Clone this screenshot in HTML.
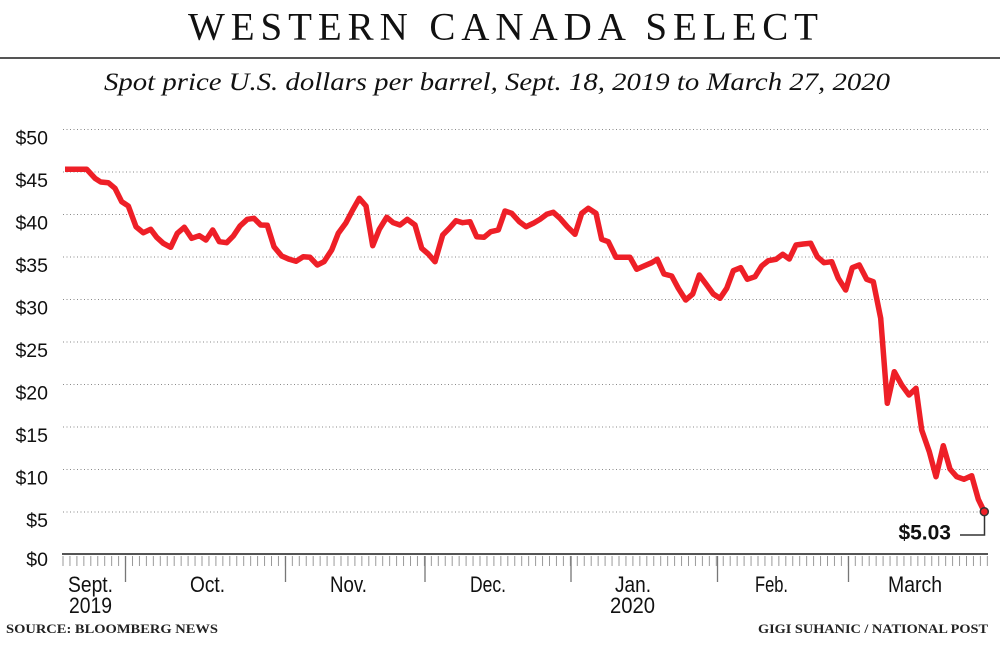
<!DOCTYPE html>
<html>
<head>
<meta charset="utf-8">
<style>
  html,body{margin:0;padding:0;background:#fff;}
  svg{display:block;}
</style>
</head>
<body>
<svg width="1000" height="651" viewBox="0 0 1000 651" xmlns="http://www.w3.org/2000/svg">
  <defs>
    <pattern id="ticks" patternUnits="userSpaceOnUse" x="62.5" y="0" width="6.95" height="651">
      <rect x="0" y="556" width="1" height="10" fill="#9a9a9a"/>
    </pattern>
  </defs>
  <rect width="1000" height="651" fill="#fff"/>

  <!-- Title -->
  <text x="188" y="39.5" font-family="Liberation Serif, serif" font-size="39" fill="#111" textLength="630" lengthAdjust="spacing">WESTERN CANADA SELECT</text>
  <rect x="0" y="57" width="1000" height="2" fill="#555"/>
  <text x="104" y="90" font-family="Liberation Serif, serif" font-style="italic" font-size="25" fill="#111" textLength="786" lengthAdjust="spacingAndGlyphs">Spot price U.S. dollars per barrel, Sept. 18, 2019 to March 27, 2020</text>

  <!-- Gridlines -->
  <g stroke="#8a8a8a" stroke-width="1" stroke-dasharray="1 2.5">
    <line x1="63" y1="129.5" x2="988" y2="129.5"/>
    <line x1="63" y1="172" x2="988" y2="172"/>
    <line x1="63" y1="214.5" x2="988" y2="214.5"/>
    <line x1="63" y1="257" x2="988" y2="257"/>
    <line x1="63" y1="299.5" x2="988" y2="299.5"/>
    <line x1="63" y1="342" x2="988" y2="342"/>
    <line x1="63" y1="384.5" x2="988" y2="384.5"/>
    <line x1="63" y1="427" x2="988" y2="427"/>
    <line x1="63" y1="469.5" x2="988" y2="469.5"/>
    <line x1="63" y1="512" x2="988" y2="512"/>
  </g>

  <!-- Y labels -->
  <g font-family="Liberation Sans, sans-serif" font-size="19.5" fill="#111" text-anchor="end">
    <text x="48" y="144.5">$50</text>
    <text x="48" y="187">$45</text>
    <text x="48" y="229.5">$40</text>
    <text x="48" y="272">$35</text>
    <text x="48" y="314.5">$30</text>
    <text x="48" y="357">$25</text>
    <text x="48" y="399.5">$20</text>
    <text x="48" y="442">$15</text>
    <text x="48" y="484.5">$10</text>
    <text x="48" y="527">$5</text>
    <text x="48" y="566">$0</text>
  </g>

  <!-- Axis -->
  <rect x="62" y="553" width="926" height="2" fill="#555"/>
  <rect x="62" y="555" width="927" height="12" fill="url(#ticks)"/>
  <g stroke="#777" stroke-width="1.3">
    <line x1="125.5" y1="556" x2="125.5" y2="582"/>
    <line x1="285.5" y1="556" x2="285.5" y2="582"/>
    <line x1="425" y1="556" x2="425" y2="582"/>
    <line x1="571" y1="556" x2="571" y2="582"/>
    <line x1="717.5" y1="556" x2="717.5" y2="582"/>
    <line x1="848.5" y1="556" x2="848.5" y2="582"/>
  </g>

  <!-- X labels -->
  <g font-family="Liberation Sans, sans-serif" font-size="22" fill="#111">
    <text x="68" y="592" textLength="45" lengthAdjust="spacingAndGlyphs">Sept.</text>
    <text x="69" y="613" textLength="43" lengthAdjust="spacingAndGlyphs">2019</text>
    <text x="190" y="592" textLength="35" lengthAdjust="spacingAndGlyphs">Oct.</text>
    <text x="330" y="592" textLength="37" lengthAdjust="spacingAndGlyphs">Nov.</text>
    <text x="470" y="592" textLength="36" lengthAdjust="spacingAndGlyphs">Dec.</text>
    <text x="615" y="592" textLength="36" lengthAdjust="spacingAndGlyphs">Jan.</text>
    <text x="610" y="613" textLength="45" lengthAdjust="spacingAndGlyphs">2020</text>
    <text x="755" y="592" textLength="33" lengthAdjust="spacingAndGlyphs">Feb.</text>
    <text x="888" y="592" textLength="54" lengthAdjust="spacingAndGlyphs">March</text>
  </g>

  <!-- Data line -->
  <polyline fill="none" stroke="#ee1f27" stroke-width="5.5" stroke-linejoin="round" stroke-linecap="butt" points="
65,169.3 86.7,169.3 95,178.3 100.7,182 108.3,182.7 115,188.3 121.7,201.7 128.3,206 136,226.7 143.3,232.7
150.7,229.3 156.7,237.3 163.3,243.3 170.7,247.3 177.3,233.3 184.3,227.3 191.7,238.3 199.3,235.7 206,240 212.7,230
219.3,241.7 226.7,242.7 233.3,236 240,226 247.3,219.3 254,218.3 260.7,225 267.3,225.3 274,246.7 281.7,256
289.3,259.3 296,261.3 303.3,256.7 310,257.3 317.3,265 324,261.7 331.7,250 338.3,233.3 346,222.7 352.7,210
359.3,198.3 366,206 372.7,245.7 379.3,229.3 386.7,217.3 393.3,222.7 400,225 407.3,219.3 415,225 421.7,248.3
428.3,254 435,261.7 442.7,235 449.3,228.3 456,220.7 462.7,222.7 470,221.7 476.7,236.7 484,237.3 490.7,231.7
498.3,230 505,211 511.7,213.3 519.3,221.7 526,226.7 533.3,223.3 540,219.3 546.7,214.3 553.3,212.3 560,218.3
567.3,226.7 575,234.3 581.7,213.3 588.3,208.3 596,213.3 601.7,239.3 608.3,241.7 616,257.3 630,257.3 636.7,269.3
644,266 651.7,262.7 657.3,259.3 664,274 671.7,276 678.3,288.3 685.7,300 692.7,294 699.3,275 706,284
713.3,294 720,298.3 726.7,288.3 733.3,270.7 740.7,267.7 747.3,279.3 755,276.7 761.7,266 768.3,260.7 776,259.3
782.7,254.3 789.3,259 796,245 803.3,244 810.7,243.3 817.3,256.7 824,262.7 831.7,261.7 838.3,278.3 845.7,290
852.3,267.7 859.3,265 866.7,279.3 873.3,281.7 880.7,318.3 887.3,403.3 894.3,371.7 901.7,385 909,395 916,388.3
921.7,430 929.3,451.7 936,476.7 943.3,445.7 950,469 956.7,476.7 964,479.3 971.7,475.7 978.3,499.3 984.3,511.7"/>

  <!-- End annotation -->
  <polyline fill="none" stroke="#333" stroke-width="1.5" points="984.5,515 984.5,535 960,535"/>
  <circle cx="984.3" cy="511.7" r="4" fill="#ee1f27" stroke="#333" stroke-width="1.5"/>
  <text x="951" y="539.5" font-family="Liberation Sans, sans-serif" font-size="21" font-weight="bold" fill="#111" text-anchor="end">$5.03</text>

  <!-- Footer -->
  <text x="6" y="633" font-family="Liberation Serif, serif" font-size="12.5" font-weight="bold" fill="#222" textLength="212" lengthAdjust="spacingAndGlyphs">SOURCE: BLOOMBERG NEWS</text>
  <text x="758" y="633" font-family="Liberation Serif, serif" font-size="12.5" font-weight="bold" fill="#222" textLength="230" lengthAdjust="spacingAndGlyphs">GIGI SUHANIC / NATIONAL POST</text>
</svg>
</body>
</html>
